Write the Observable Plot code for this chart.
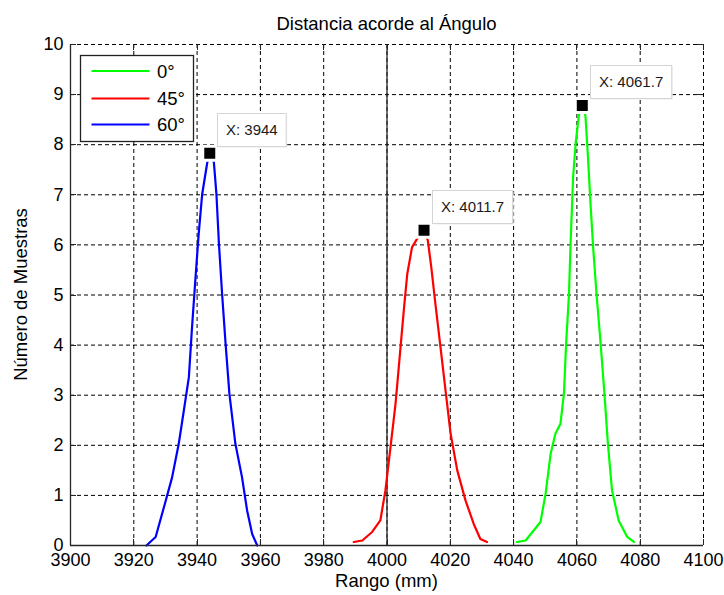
<!DOCTYPE html>
<html><head><meta charset="utf-8">
<script src="https://cdn.jsdelivr.net/npm/d3@7"></script>
<script src="https://cdn.jsdelivr.net/npm/@observablehq/plot@0.6"></script>
<style>body{margin:0;background:#fff;}</style>
</head><body><div id="chart"></div>
<script>
// ---- text ----
const title = "Distancia acorde al Ángulo";
const xLabel = "Rango (mm)";
const yLabel = "Número de Muestras";

// ---- series ----
const seriesNames = ["0°", "45°", "60°"];
const seriesColors = ["#00ff00", "#ff0000", "#0000ff"];

const x0 = [4041.1, 4043.8, 4048.5, 4050.1, 4051.7, 4053.2, 4054.8, 4055.9, 4056.6, 4057.5, 4058.0, 4058.8, 4059.6, 4060.6, 4061.7, 4062.7, 4063.5, 4064.3, 4065.2, 4066.2, 4067.5, 4068.7, 4069.8, 4071.1, 4073.2, 4075.9, 4078.0];
const y0 = [0.07, 0.1, 0.47, 1.03, 1.83, 2.23, 2.43, 3.03, 4.03, 5.02, 6.02, 7.35, 8.02, 8.58, 8.78, 8.58, 7.75, 6.82, 5.89, 5.02, 4.03, 3.03, 2.03, 1.10, 0.5, 0.17, 0.07];

const x45 = [3989.5, 3992.2, 3995.3, 3997.9, 3999.5, 4001.1, 4002.7, 4004.0, 4005.3, 4006.4, 4007.9, 4009.3, 4011.7, 4012.9, 4014.0, 4015.3, 4016.9, 4018.5, 4020.1, 4022.2, 4024.8, 4027.4, 4029.5, 4031.6];
const y45 = [0.07, 0.1, 0.27, 0.5, 1.1, 1.96, 2.83, 3.76, 4.69, 5.42, 5.95, 6.10, 6.29, 6.09, 5.55, 4.82, 3.96, 3.09, 2.23, 1.50, 0.90, 0.43, 0.13, 0.07];

const x60 = [3924.0, 3926.9, 3929.5, 3932.1, 3934.2, 3935.8, 3937.4, 3938.4, 3939.5, 3940.5, 3941.6, 3943.2, 3944.0, 3945.3, 3946.1, 3946.9, 3947.9, 3949.0, 3950.2, 3952.1, 3954.2, 3955.8, 3957.4, 3959.0];
const y60 = [0, 0.17, 0.76, 1.36, 2.03, 2.69, 3.36, 4.36, 5.35, 6.22, 7.01, 7.64, 7.83, 7.65, 7.02, 6.02, 5.02, 4.03, 3.03, 2.03, 1.36, 0.70, 0.23, 0];

// ---- data tips ----
const tipX = [4061.7, 4011.7, 3944];
const tipY = [8.78, 6.29, 7.83];
const tipText = ["X: 4061.7", "X: 4011.7", "X: 3944"];

// ---- ticks ----
const xTicks = [3900, 3920, 3940, 3960, 3980, 4000, 4020, 4040, 4060, 4080, 4100];
const yTicks = [0, 1, 2, 3, 4, 5, 6, 7, 8, 9, 10];
const refX = [4000];

// ---- build tables ----
const seriesX = [x0, x45, x60];
const seriesY = [y0, y45, y60];
const rows = [];
seriesNames.forEach((s, i) => seriesX[i].forEach((xv, j) => rows.push({series: s, x: xv, y: seriesY[i][j]})));
const tips = tipX.map((xv, i) => ({x: xv, y: tipY[i], label: tipText[i]}));

const FONT = '"Liberation Sans", Arial, Helvetica, sans-serif';
const AX = "#262626";

function decor(index, scales, values, dim) {
  const {x, y} = scales;
  const L = dim.marginLeft, R = dim.width - dim.marginRight, T = dim.marginTop, B = dim.height - dim.marginBottom;
  const g = d3.create("svg:g").attr("stroke", AX).attr("stroke-width", 1).attr("fill", "none");
  const tl = 6;
  for (const t of xTicks) {
    const px = Math.round(x(t)) + 0.5;
    g.append("line").attr("x1", px).attr("x2", px).attr("y1", B).attr("y2", B - tl);
    g.append("line").attr("x1", px).attr("x2", px).attr("y1", T).attr("y2", T + tl);
  }
  for (const t of yTicks) {
    const py = Math.round(y(t)) + 0.5;
    g.append("line").attr("x1", L).attr("x2", L + tl).attr("y1", py).attr("y2", py);
    g.append("line").attr("x1", R).attr("x2", R - tl).attr("y1", py).attr("y2", py);
  }
  g.append("line").attr("x1", L + 0.5).attr("x2", L + 0.5).attr("y1", T).attr("y2", B + 0.5).attr("stroke-width", 1.3);
  g.append("line").attr("x1", L).attr("x2", R).attr("y1", B + 0.5).attr("y2", B + 0.5).attr("stroke-width", 1.3);
  const tx = d3.create("svg:g").attr("fill", "#000").attr("stroke", "none").attr("font-size", 18.5).attr("text-anchor", "middle");
  tx.append("text").attr("x", (L + R) / 2).attr("y", T - 14).text(title);
  tx.append("text").attr("x", (L + R) / 2).attr("y", dim.height - 8).text(xLabel);
  tx.append("text").attr("transform", `translate(${L - 43},${(T + B) / 2}) rotate(-90)`).text(yLabel);
  const outer = d3.create("svg:g");
  outer.node().appendChild(g.node());
  outer.node().appendChild(tx.node());
  return outer.node();
}

const ctx = document.createElement("canvas").getContext("2d");
ctx.font = `15px ${FONT}`;
function tipBoxes(index, scales, values, dim) {
  const {x, y} = scales;
  const g = d3.create("svg:g").attr("text-anchor", "start");
  for (const t of tips) {
    const cx = x(t.x), cy = y(t.y);
    const w = ctx.measureText(t.label).width + 17;
    const h = 33;
    const left = Math.round(cx + 8) + 0.5, bottom = Math.round(cy - 7) + 0.5;
    g.append("rect").attr("x", left + 1).attr("y", bottom - h + 1).attr("width", w).attr("height", h).attr("fill", "#eeeeee");
    g.append("rect").attr("x", left).attr("y", bottom - h).attr("width", w).attr("height", h)
      .attr("fill", "#fff").attr("stroke", "#d4d4d4").attr("stroke-width", 1);
    g.append("text").attr("x", left + 8.5).attr("y", bottom - 11.5).attr("font-size", 15).attr("fill", "#1a1a1a").text(t.label);
  }
  return g.node();
}

function legend(index, scales, values, dim) {
  const L = dim.marginLeft, T = dim.marginTop;
  const g = d3.create("svg:g").attr("text-anchor", "start");
  const bx = L + 10.5, by = T + 11.5, bw = 113, bh = 86;
  g.append("rect").attr("x", bx).attr("y", by).attr("width", bw).attr("height", bh)
    .attr("fill", "#fff").attr("stroke", "#222").attr("stroke-width", 1.3);
  const offs = [15.5, 43, 69];
  seriesNames.forEach((s, i) => {
    const yy = by + offs[i];
    g.append("line").attr("x1", bx + 11).attr("x2", bx + 69).attr("y1", yy).attr("y2", yy)
      .attr("stroke", seriesColors[i]).attr("stroke-width", 2.2);
    g.append("text").attr("x", bx + 76.5).attr("y", yy + 6.5).attr("font-size", 18.5).attr("fill", "#000").text(s);
  });
  return g.node();
}

const fmt = d => String(d);

const chart = Plot.plot({
  width: 724, height: 595,
  marginLeft: 70, marginRight: 21, marginTop: 44, marginBottom: 50,
  style: {fontFamily: FONT, fontSize: "18px", background: "white", color: "#000", overflow: "visible"},
  x: {domain: [3900, 4100]},
  y: {domain: [0, 10]},
  color: {domain: seriesNames, range: seriesColors},
  marks: [
    Plot.gridX(xTicks, {stroke: "#000", strokeOpacity: 1, strokeDasharray: "4,3", strokeWidth: 1}),
    Plot.gridY(yTicks, {stroke: "#000", strokeOpacity: 1, strokeDasharray: "4,3", strokeWidth: 1}),
    Plot.ruleX(refX, {stroke: AX, strokeWidth: 1.3}),
    Plot.axisX(xTicks, {tickSize: 0, tickPadding: 8, fontSize: 18, label: null, tickFormat: fmt}),
    Plot.axisY(yTicks, {tickSize: 0, tickPadding: 7, fontSize: 18, label: null, tickFormat: fmt}),
    Plot.line(rows, {x: "x", y: "y", z: "series", stroke: "series", strokeWidth: 2.2}),
    decor,
    Plot.dot(tips, {x: "x", y: "y", symbol: "square", r: 7.9, fill: "#000", stroke: "#fff", strokeWidth: 3}),
    tipBoxes,
    legend
  ]
});
document.getElementById("chart").appendChild(chart);
</script>
</body></html>
